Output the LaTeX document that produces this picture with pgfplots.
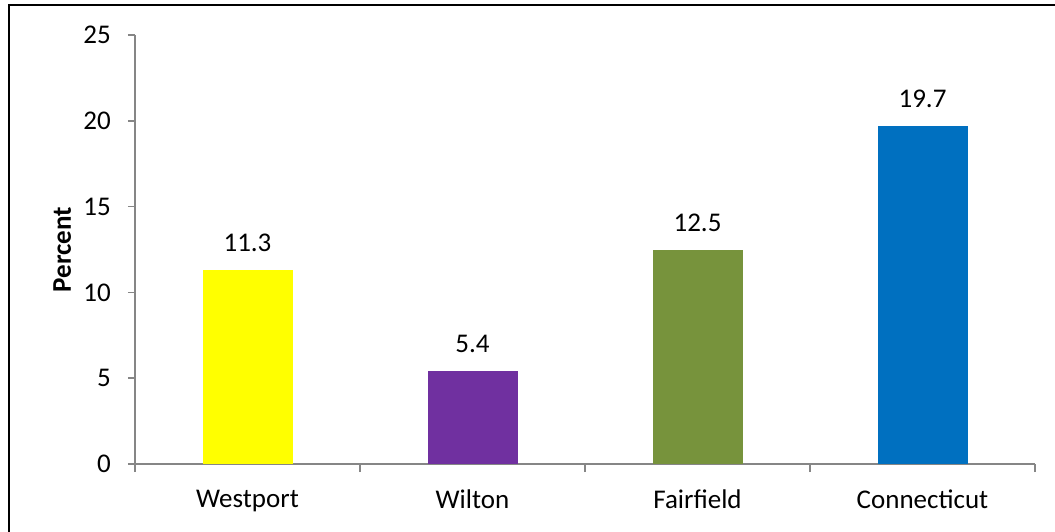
\documentclass[border=0pt]{standalone}
\usepackage{pgfplots}
\pgfplotsset{compat=1.18}
\usepackage{fontspec}
\setmainfont{Carlito}
\definecolor{axgray}{HTML}{868686}
\definecolor{cyellow}{HTML}{FFFF00}
\definecolor{cpurple}{HTML}{7030A0}
\definecolor{cgreen}{HTML}{77933C}
\definecolor{cblue}{HTML}{0070C0}
\begin{document}
\begin{tikzpicture}[x=1pt,y=1pt]
\path[use as bounding box, clip] (0,0) rectangle (1055,531);
\fill[white] (0,0) rectangle (1055,531);
\begin{axis}[
  at={(135pt,67pt)}, anchor=south west,
  scale only axis, width=900pt, height=429pt,
  xmin=-0.5, xmax=3.5, ymin=0, ymax=25,
  ytick={0,5,...,25},
  xtick={0,1,2,3},
  xticklabels={Westport,Wilton,Fairfield,Connecticut},
  minor xtick={-0.5,0.5,1.5,2.5,3.5},
  major x tick style={draw=none},
  axis x line*=bottom, axis y line*=left,
  axis line style={axgray, line width=1.5pt, -},
  tick style={axgray, line width=1.5pt},
  tick align=outside,
  major tick length=7pt, minor tick length=8pt,
  font=\fontsize{27}{32}\selectfont,
  /pgf/number format/assume math mode=true,
  yticklabel style={inner sep=0pt, xshift=-17pt},
  xticklabel style={inner sep=0pt, yshift=-19pt},
  ylabel={\bfseries Percent},
  every axis y label/.style={at={(axis description cs:-0.081,0.5)}, rotate=90, anchor=center},
  ybar, bar width=90pt, bar shift=0pt,
  nodes near coords,
  nodes near coords style={/pgf/number format/fixed, /pgf/number format/fixed zerofill, /pgf/number format/precision=1},
  every node near coord/.append style={font=\fontsize{27}{32}\selectfont, black, inner sep=0pt, yshift=18pt},
]
\addplot[draw=none, fill=cyellow] coordinates {(0,11.3)};
\addplot[draw=none, fill=cpurple] coordinates {(1,5.4)};
\addplot[draw=none, fill=cgreen] coordinates {(2,12.5)};
\addplot[draw=none, fill=cblue] coordinates {(3,19.7)};
\end{axis}
\draw[black, line width=2pt] (9,-10) rectangle (1065,526);
\end{tikzpicture}
\end{document}
